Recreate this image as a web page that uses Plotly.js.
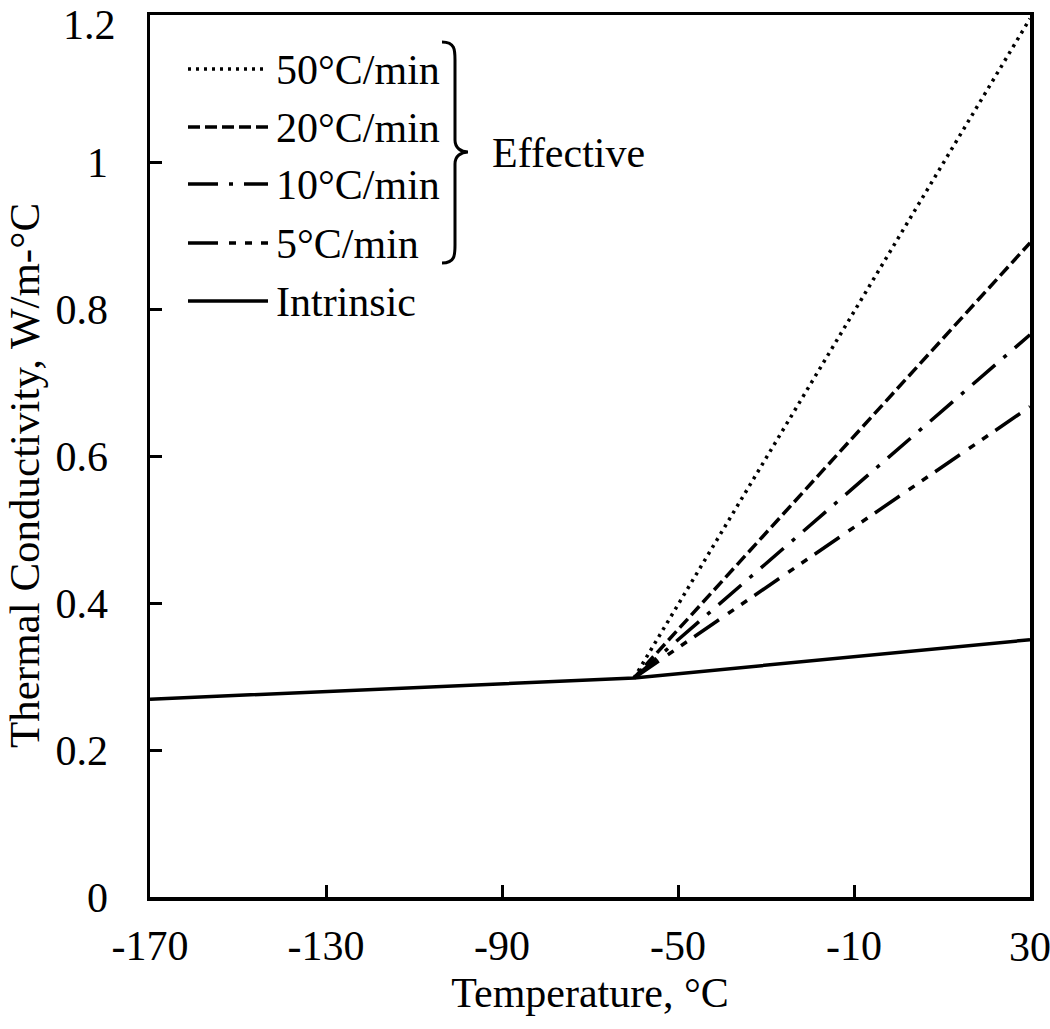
<!DOCTYPE html>
<html>
<head>
<meta charset="utf-8">
<script src="https://cdn.plot.ly/plotly-3.0.1.min.js"></script>
<style>html,body{margin:0;padding:0;background:#fff;}#chart{width:1050px;height:1029px;}</style>
</head>
<body>
<div id="chart"></div>
<script>
// ---- data ----
const intrinsicTemps = [-170, -60, 30];
const intrinsicK = [0.269, 0.298, 0.350];
const effTemps = [-60, 30];
const eff50 = [0.298, 1.195];
const eff20 = [0.298, 0.890];
const eff10 = [0.298, 0.765];
const eff5 = [0.298, 0.667];
const seriesNames = ["50°C/min", "20°C/min", "10°C/min", "5°C/min", "Intrinsic"];
const groupLabel = "Effective";
const xTickVals = [-170, -130, -90, -50, -10, 30];
const xTickText = ["-170", "-130", "-90", "-50", "-10", "30"];
const yTickVals = [0, 0.2, 0.4, 0.6, 0.8, 1, 1.2];
const yTickText = ["0", "0.2", "0.4", "0.6", "0.8", "1", "1.2"];
const xTitle = "Temperature, °C";
const yTitle = "Thermal Conductivity, W/m-°C";

// ---- styles ----
const FONT = "Liberation Serif";
const FS = 42;
const dashes = ["3px,5px", "12px,5px", "30px,11px,4px,11px", "30px,11px,7px,9px,7px,9px", "solid"];
const widths = [3.5, 3.5, 3.5, 3.5, 3.5];

const M = {l: 150, r: 20, t: 15, b: 132};
const W = 1050, H = 1029;
const PW = W - M.l - M.r, PH = H - M.t - M.b;
const px = x => (x - M.l) / PW;
const py = y => (H - M.b - y) / PH;

const ys = [eff50, eff20, eff10, eff5];
const traces = ys.map((v, i) => ({
  x: effTemps, y: v, type: "scatter", mode: "lines", name: seriesNames[i],
  line: {color: "black", width: widths[i], dash: dashes[i]}, showlegend: false
}));
traces.push({
  x: intrinsicTemps, y: intrinsicK, type: "scatter", mode: "lines", name: seriesNames[4],
  line: {color: "black", width: widths[4], dash: "solid"}, showlegend: false
});

const shapes = [];
const annotations = [];

// tick labels: edge labels that Plotly would hide for overflowing the page are drawn as annotations
const xLab = xTickText.slice();
const yLab = yTickText.slice();
const lastX = xTickVals.length - 1, lastY = yTickVals.length - 1;
xLab[lastX] = "";
yLab[lastY] = "";
annotations.push({xref: "x", yref: "paper", x: xTickVals[lastX], y: py(947), xanchor: "center", yanchor: "middle",
  text: xTickText[lastX], showarrow: false, borderpad: 0, font: {family: FONT, size: FS, color: "black"}});
annotations.push({xref: "paper", yref: "y", x: px(117), y: yTickVals[lastY], yshift: -10, xanchor: "right", yanchor: "middle",
  text: yTickText[lastY], showarrow: false, borderpad: 0, font: {family: FONT, size: FS, color: "black"}});

// y-axis title (placed like the reference, slightly below the plot's middle)
annotations.push({xref: "paper", yref: "paper", x: px(25), y: py(476), xanchor: "center", yanchor: "middle",
  textangle: -90, text: yTitle, showarrow: false, borderpad: 0, font: {family: FONT, size: 43, color: "black"}});

// custom legend (long line samples like the reference)
const rowY = [69, 127, 184, 243, 301];
rowY.forEach((y, i) => {
  shapes.push({type: "line", xref: "paper", yref: "paper", x0: px(188), x1: px(268), y0: py(y), y1: py(y),
    line: {color: "black", width: widths[i], dash: dashes[i]}});
  annotations.push({xref: "paper", yref: "paper", x: px(274), y: py(y + 1), xanchor: "left", yanchor: "middle",
    text: seriesNames[i], showarrow: false, font: {family: FONT, size: FS, color: "black"}});
});
// curly brace
const bx0 = 442, bx1 = 455, bx2 = 468, by0 = 42, bym = 152, by1 = 263;
const P = (x, y) => px(x).toFixed(5) + "," + py(y).toFixed(5);
const bracePath = "M" + P(bx0, by0) +
  " C" + P(bx1, by0) + " " + P(bx1, by0 + 8) + " " + P(bx1, by0 + 18) +
  " L" + P(bx1, bym - 12) +
  " C" + P(bx1, bym - 4) + " " + P(bx1 + 6, bym) + " " + P(bx2, bym) +
  " C" + P(bx1 + 6, bym) + " " + P(bx1, bym + 4) + " " + P(bx1, bym + 12) +
  " L" + P(bx1, by1 - 18) +
  " C" + P(bx1, by1 - 8) + " " + P(bx1, by1) + " " + P(bx0, by1);
shapes.push({type: "path", xref: "paper", yref: "paper", path: bracePath, line: {color: "black", width: 3}});
annotations.push({xref: "paper", yref: "paper", x: px(490), y: py(bym + 1), xanchor: "left", yanchor: "middle",
  text: groupLabel, showarrow: false, font: {family: FONT, size: FS, color: "black"}});

const axisCommon = {
  showline: true, linecolor: "black", linewidth: 3.5, mirror: true,
  ticks: "inside", ticklen: 12, tickwidth: 3, tickcolor: "black",
  showgrid: false, zeroline: false,
  tickfont: {family: FONT, size: FS, color: "black"}
};

const layout = {
  width: W, height: H, margin: M,
  paper_bgcolor: "white", plot_bgcolor: "white",
  showlegend: false,
  font: {family: FONT, color: "black"},
  xaxis: Object.assign({}, axisCommon, {
    range: [-170, 30], tickmode: "array", tickvals: xTickVals, ticktext: xLab, ticklabelstandoff: 9,
    title: {text: xTitle, font: {family: FONT, size: FS, color: "black"}, standoff: 10}
  }),
  yaxis: Object.assign({}, axisCommon, {
    range: [0, 1.2], tickmode: "array", tickvals: yTickVals, ticktext: yLab, ticklabelstandoff: 30
  }),
  shapes: shapes,
  annotations: annotations
};

Plotly.newPlot("chart", traces, layout, {displayModeBar: false, staticPlot: true});
</script>
</body>
</html>
